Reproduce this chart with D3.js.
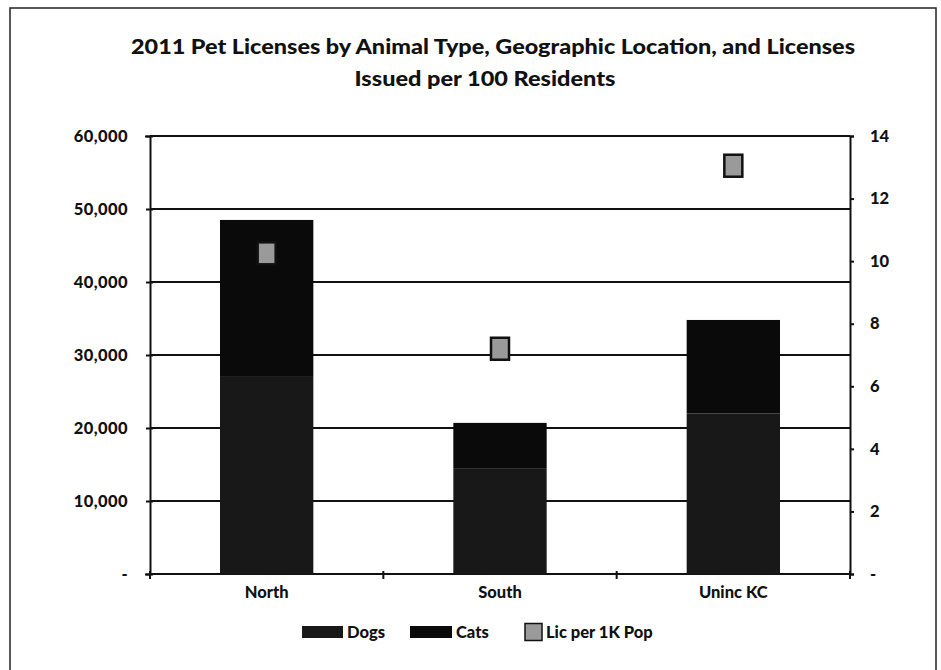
<!DOCTYPE html>
<html><head><meta charset="utf-8">
<script src="https://cdn.jsdelivr.net/npm/d3@7"></script>
<style>
body{margin:0;background:#fff;}
text{font-family:Lato, "Open Sans", sans-serif;font-weight:900;fill:#111;}
</style></head>
<body><svg id="c" width="941" height="670"></svg>
<script>
const categories = ["North", "South", "Uninc KC"];
const dogs = [27000, 14500, 22000];
const cats = [21500, 6200, 12800];
const licPer1K = [10.25, 7.2, 13.05];
const leftTicks = [0, 10000, 20000, 30000, 40000, 50000, 60000];
const rightTicks = [0, 2, 4, 6, 8, 10, 12, 14];
const seriesNames = ["Dogs", "Cats", "Lic per 1K Pop"];
const titleLines = ["2011 Pet Licenses by Animal Type, Geographic Location, and Licenses", "Issued per 100 Residents"];

const svg = d3.select("#c");
const m = {l:150, r:850, t:136, b:574};

svg.append("rect").attr("x",10).attr("y",8).attr("width",926).attr("height",700)
  .attr("fill","none").attr("stroke","#222").attr("stroke-width",1.5);

const titleW = [724, 261];
svg.selectAll("text.title").data(titleLines).join("text").attr("class","title")
  .attr("x",(d,i)=>i===0?493:485).attr("y",(d,i)=>54+i*32).attr("text-anchor","middle")
  .attr("textLength",(d,i)=>titleW[i]).attr("lengthAdjust","spacingAndGlyphs")
  .style("font-size","20px").text(d=>d);

const x = d3.scaleBand().domain(categories).range([m.l,m.r]).paddingInner(0.6).paddingOuter(0.3);
const y = d3.scaleLinear().domain([0,60000]).range([m.b,m.t]);
const y2 = d3.scaleLinear().domain([0,14]).range([m.b,m.t]);

// gridlines
svg.append("g").selectAll("line").data(leftTicks).join("line")
  .attr("x1",m.l).attr("x2",m.r).attr("y1",d=>y(d)).attr("y2",d=>y(d))
  .attr("stroke","#111").attr("stroke-width",2.2);

// stacked bars
const rows = categories.map((c,i)=>({cat:c, Dogs:dogs[i], Cats:cats[i]}));
const stack = d3.stack().keys(["Dogs","Cats"])(rows);
const colors = {Dogs:"#181818", Cats:"#0a0a0a"};
svg.append("g").selectAll("g").data(stack).join("g").attr("fill",d=>colors[d.key])
  .selectAll("rect").data(d=>d).join("rect")
  .attr("x",d=>x(d.data.cat)).attr("width",x.bandwidth())
  .attr("y",d=>y(d[1])).attr("height",d=>y(d[0])-y(d[1]));

// markers
svg.append("g").selectAll("rect").data(licPer1K).join("rect")
  .attr("x",(d,i)=>x(categories[i])+x.bandwidth()/2-9)
  .attr("y",d=>y2(d)-11).attr("width",18).attr("height",22)
  .attr("fill","#9a9a9a").attr("stroke","#111").attr("stroke-width",2.5);

// left axis
const la = svg.append("g").attr("transform",`translate(${m.l},0)`)
  .call(d3.axisLeft(y).tickValues(leftTicks).tickSize(5).tickPadding(17)
    .tickFormat(d=>d===0?"-":d3.format(",")(d)));
la.select(".domain").attr("stroke","#111").attr("stroke-width",2);
la.selectAll(".tick line").attr("stroke","#111").attr("stroke-width",2).attr("x2",-4).attr("x1",3);
la.selectAll("text").style("font-size","16.5px").attr("fill","#111").attr("letter-spacing","0.4px");

// right axis
const ra = svg.append("g").attr("transform",`translate(${m.r},0)`)
  .call(d3.axisRight(y2).tickValues(rightTicks).tickSize(4).tickPadding(16)
    .tickFormat(d=>d===0?"-":d));
ra.select(".domain").attr("stroke","#111").attr("stroke-width",2);
ra.selectAll(".tick line").attr("stroke","#111").attr("stroke-width",2);
ra.selectAll("text").style("font-size","16.5px").attr("fill","#111").attr("text-anchor","start");

// bottom axis
const xb = svg.append("g").attr("transform",`translate(0,${m.b})`)
  .call(d3.axisBottom(x).tickSize(0).tickPadding(12));
xb.select(".domain").remove();
xb.selectAll("text").style("font-size","16.5px").attr("fill","#111");
const edges = [m.l, ...categories.slice(1).map(c=>x(c)-x.step()*x.paddingInner()/2), m.r];
svg.append("g").selectAll("line").data(edges).join("line")
  .attr("x1",d=>d).attr("x2",d=>d).attr("y1",m.b-3).attr("y2",m.b+5)
  .attr("stroke","#111").attr("stroke-width",2);

// legend
const lg = svg.append("g");
const lx = [302, 410, 525];
const sw = [{w:41,h:12,f:colors.Dogs},{w:42,h:12,f:colors.Cats},{w:17,h:17,f:"#9a9a9a"}];
seriesNames.forEach((s,i)=>{
  lg.append("rect").attr("x",lx[i]).attr("y",632-sw[i].h/2).attr("width",sw[i].w).attr("height",sw[i].h)
    .attr("fill",sw[i].f).attr("stroke",i===2?"#111":"none").attr("stroke-width",1.5);
  lg.append("text").attr("x",lx[i]+sw[i].w+4).attr("y",638).style("font-size","16.5px").text(s);
});
</script></body></html>
